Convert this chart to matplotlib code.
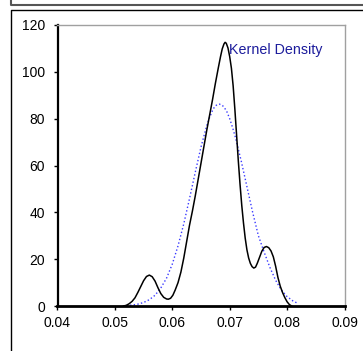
import matplotlib
import matplotlib.pyplot as plt
from matplotlib.lines import Line2D

matplotlib.use('Agg')
plt.rcParams['font.family'] = ['Liberation Sans', 'DejaVu Sans']

# kernel density curve (black)
kde_x = [0.0515, 0.0520, 0.0525, 0.0530, 0.0535, 0.0540, 0.0545, 0.0550, 0.0555,
         0.0560, 0.0565, 0.0570, 0.0575, 0.0580, 0.0585, 0.0590, 0.0593, 0.0597,
         0.0601, 0.0605, 0.0610, 0.0615, 0.0620, 0.0625, 0.0630, 0.0635, 0.0640,
         0.0645, 0.0650, 0.0655, 0.0660, 0.0665, 0.0670, 0.0675, 0.0680, 0.0684,
         0.0687, 0.0690, 0.0692, 0.0694, 0.0697, 0.0700, 0.0703, 0.0706, 0.0709,
         0.0712, 0.0715, 0.0718, 0.0721, 0.0724, 0.0727, 0.0730, 0.0733, 0.0736,
         0.0739, 0.0742, 0.0745, 0.0748, 0.0752, 0.0756, 0.0760, 0.0764, 0.0768,
         0.0772, 0.0776, 0.0780, 0.0784, 0.0788, 0.0792, 0.0796, 0.0800, 0.0804,
         0.0808]
kde_y = [0.0, 0.3, 1.0, 2.0, 3.5, 5.8, 8.3, 10.8, 12.6,
         13.2, 12.5, 10.6, 7.8, 5.3, 3.7, 3.0, 2.9, 3.3,
         4.6, 6.8, 10.0, 14.5, 20.5, 27.5, 34.5, 40.5, 47.0,
         54.0, 61.0, 68.0, 75.0, 81.5, 88.0, 95.0, 101.5, 106.5,
         109.8, 111.9, 112.6, 112.2, 110.2, 106.5, 101.5, 94.0, 84.0,
         73.0, 62.0, 52.0, 43.0, 35.5, 29.0, 24.0, 20.5, 18.2,
         16.8, 16.2, 16.6, 18.2, 20.8, 23.4, 25.0, 25.4, 24.9,
         23.5, 21.0, 17.0, 12.2, 8.5, 5.8, 3.6, 1.8, 0.6,
         0.0]

# normal curve (blue dotted)
norm_x = [0.0520, 0.0530, 0.0540, 0.0550, 0.0560, 0.0570, 0.0580, 0.0590, 0.0600,
          0.0610, 0.0620, 0.0630, 0.0640, 0.0650, 0.0660, 0.0665, 0.0670, 0.0674,
          0.0678, 0.0682, 0.0686, 0.0690, 0.0695, 0.0700, 0.0705, 0.0710, 0.0720,
          0.0730, 0.0740, 0.0750, 0.0760, 0.0770, 0.0780, 0.0790, 0.0800, 0.0810,
          0.0818]
norm_y = [0.2, 0.4, 0.8, 1.5, 2.7, 4.6, 7.7, 11.9, 17.9,
          25.7, 35.1, 45.9, 57.1, 67.9, 77.0, 80.5, 83.5, 85.2,
          86.0, 86.2, 85.9, 85.0, 83.0, 80.0, 76.2, 72.0, 62.0,
          51.0, 40.0, 30.0, 23.0, 16.5, 11.0, 6.8, 4.0, 2.2,
          1.2]

x_ticks = [0.04, 0.05, 0.06, 0.07, 0.08, 0.09]
y_ticks = [0, 20, 40, 60, 80, 100, 120]

W, H = 363, 351
fig = plt.figure(figsize=(W / 100, H / 100), dpi=100)
ax = fig.add_axes([57.5 / W, 45 / H, 287 / W, 281 / H])

ax.plot(norm_x, norm_y, color='#3a3aff', linestyle=':', linewidth=1.0)
ax.plot(kde_x, kde_y, color='black', linewidth=1.1)
ax.text(0.0699, 109.3, 'Kernel Density', color='#1c1c9c', fontsize=10.3,
        ha='left', va='center')

ax.set_xlim(0.04, 0.09)
ax.set_ylim(0, 120)
ax.set_xticks(x_ticks)
ax.set_xticklabels([f'{t:.2f}' for t in x_ticks])
ax.set_yticks(y_ticks)
ax.tick_params(axis='both', direction='out', length=3, width=1, labelsize=10,
               color='black')
ax.tick_params(axis='y', pad=6)
ax.tick_params(axis='x', pad=4.5)

ax.spines['left'].set_linewidth(1.6)
ax.spines['bottom'].set_linewidth(2.0)
for side in ['top', 'right']:
    ax.spines[side].set_color('#a0a0a0')
    ax.spines[side].set_linewidth(1.0)


def px_line(xs, ys, **kw):
    fig.add_artist(Line2D([x / W for x in xs], [1 - y / H for y in ys],
                          transform=fig.transFigure, **kw))


# surrounding frames
px_line([11, 11, W], [0, 5, 5], color='#555555', linewidth=1.5)
px_line([W, 11, 11], [10, 10, H], color='black', linewidth=1.0)

fig.savefig('out.png', dpi=100)
